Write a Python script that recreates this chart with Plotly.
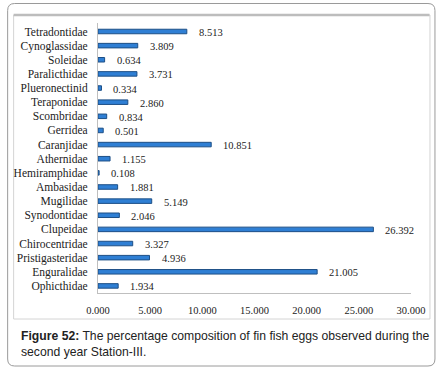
import plotly.graph_objects as go

categories = ["Tetradontidae", "Cynoglassidae", "Soleidae", "Paralicthidae", "Plueronectinid",
              "Teraponidae", "Scombridae", "Gerridea", "Caranjidae", "Athernidae",
              "Hemiramphidae", "Ambasidae", "Mugilidae", "Synodontidae", "Clupeidae",
              "Chirocentridae", "Pristigasteridae", "Enguralidae", "Ophicthidae"]
values = [8.513, 3.809, 0.634, 3.731, 0.334, 2.860, 0.834, 0.501, 10.851, 1.155,
          0.108, 1.881, 5.149, 2.046, 26.392, 3.327, 4.936, 21.005, 1.934]
x_ticks = [0, 5, 10, 15, 20, 25, 30]
x_tick_labels = ["0.000", "5.000", "10.000", "15.000", "20.000", "25.000", "30.000"]
caption = ("<b>Figure 52:</b> The percentage composition of fin fish eggs observed during the"
           "<br>second year Station-III.")

W, H = 442, 372
L, R, T, B = 98, 30.5, 23, 79
pw, ph = W - L - R, H - T - B

def px(x):
    return (x - L) / pw

def py(y):
    return (H - B - y) / ph

fig = go.Figure()
fig.add_trace(go.Bar(
    x=values, y=categories, orientation="h", width=0.32,
    marker=dict(color="#2f7fd4", line=dict(color="#1d4f86", width=1)),
    hoverinfo="x+y",
))

serif = "Liberation Serif"
annotations = []
for c, v in zip(categories, values):
    annotations.append(dict(x=v, y=c, xref="x", yref="y", text=f"{v:.3f}",
                            showarrow=False, xanchor="left", xshift=10, yshift=-1,
                            font=dict(family=serif, size=10.5, color="#222")))
annotations.append(dict(x=px(19), y=py(344), xref="paper", yref="paper", text=caption,
                        showarrow=False, xanchor="left", yanchor="middle", align="left",
                        font=dict(family="Liberation Sans", size=12.2, color="#222")))

def rounded(x0, y0, x1, y1, r):
    rx, ry = r / pw, r / ph
    X0, X1 = px(x0), px(x1)
    Y0, Y1 = py(y0), py(y1)  # Y0 top
    return (f"M {X0+rx},{Y0} L {X1-rx},{Y0} Q {X1},{Y0} {X1},{Y0-ry} "
            f"L {X1},{Y1+ry} Q {X1},{Y1} {X1-rx},{Y1} L {X0+rx},{Y1} "
            f"Q {X0},{Y1} {X0},{Y1+ry} L {X0},{Y0-ry} Q {X0},{Y0} {X0+rx},{Y0} Z")

shapes = [
    dict(type="path", xref="paper", yref="paper", path=rounded(7.5, 3.5, 435.5, 366, 7),
         line=dict(color="#9a9a9a", width=1), layer="below"),
    dict(type="rect", xref="paper", yref="paper", x0=px(13.5), x1=px(430.5), y0=py(15), y1=py(319),
         line=dict(color="#d4d4d4", width=1), layer="below"),
    dict(type="line", xref="paper", yref="paper", x0=px(13.5), x1=px(430), y0=py(15), y1=py(15),
         line=dict(color="#bdbdbd", width=2.5), layer="below"),
]

fig.update_layout(
    width=W, height=H,
    margin=dict(l=L, r=R, t=T, b=B, pad=0),
    paper_bgcolor="white", plot_bgcolor="white",
    showlegend=False,
    xaxis=dict(range=[0, 30], tickvals=x_ticks, ticktext=x_tick_labels, showgrid=False,
               zeroline=False, showline=True, linecolor="#bfbfbf", linewidth=1,
               ticks="", tickfont=dict(family=serif, size=10.5, color="#222"),
               ticklabelstandoff=7, fixedrange=True),
    yaxis=dict(autorange="reversed", showgrid=False, zeroline=False, showline=True,
               linecolor="#bfbfbf", linewidth=1, ticks="",
               tickfont=dict(family=serif, size=11.5, color="#222"), ticklabelstandoff=7,
               fixedrange=True, automargin=False),
    annotations=annotations,
    shapes=shapes,
)

fig.write_html("out.html", config={"displayModeBar": False},
               post_script="document.body.style.margin='0';")
